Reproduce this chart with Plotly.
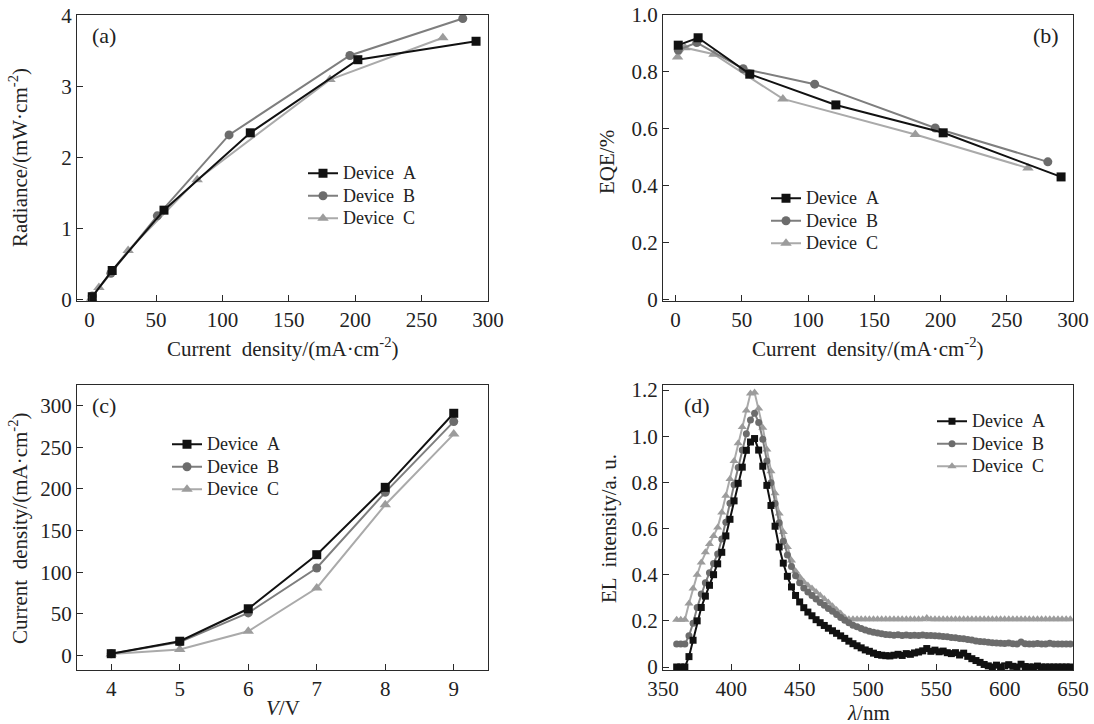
import plotly.graph_objects as go

# ---------------- data ----------------
devices = ["Device A", "Device B", "Device C"]

voltage = [4, 5, 6, 7, 8, 9]
current_A = [2, 17, 56, 121, 202, 291]
current_B = [2, 16, 51, 105, 196, 281]
current_C = [1.5, 7, 29, 81, 181, 266]

radiance_A = [0.04, 0.41, 1.26, 2.35, 3.38, 3.64]
radiance_B = [0.05, 0.37, 1.18, 2.32, 3.44, 3.96]
radiance_C = [0.02, 0.17, 0.69, 1.69, 3.10, 3.69]

eqe_A = [0.894, 0.920, 0.792, 0.684, 0.586, 0.431]
eqe_B = [0.877, 0.903, 0.811, 0.757, 0.603, 0.484]
eqe_C = [0.852, 0.885, 0.862, 0.705, 0.580, 0.462]

wavelength = [360, 363, 366, 369, 372, 375, 378, 381, 384, 387, 390, 393, 396, 399,
              402, 405, 408, 411, 414, 417, 420, 423, 426, 429, 432, 435, 438, 441,
              444, 447, 450, 453, 456, 459, 462, 465, 468, 471, 474, 477, 480, 483,
              486, 489, 492, 495, 498, 501, 504, 507, 510, 513, 516, 519, 522, 525,
              528, 531, 534, 537, 540, 543, 546, 549, 552, 555, 558, 561, 564, 567,
              570, 573, 576, 579, 582, 585, 588, 591, 594, 597, 600, 603, 606, 609,
              612, 615, 618, 621, 624, 627, 630, 633, 636, 639, 642, 645, 648]

el_A = [0.000, 0.000, 0.000, 0.045, 0.116, 0.200, 0.258, 0.307, 0.354, 0.400, 0.447,
        0.497, 0.568, 0.640, 0.720, 0.796, 0.866, 0.939, 0.975, 0.990, 0.940, 0.870,
        0.787, 0.700, 0.610, 0.520, 0.450, 0.393, 0.347, 0.310, 0.282, 0.257, 0.238,
        0.222, 0.205, 0.192, 0.180, 0.168, 0.157, 0.146, 0.135, 0.124, 0.112, 0.101,
        0.092, 0.083, 0.074, 0.068, 0.060, 0.054, 0.051, 0.049, 0.048, 0.051, 0.055,
        0.050, 0.058, 0.055, 0.061, 0.065, 0.070, 0.080, 0.068, 0.073, 0.066, 0.069,
        0.062, 0.058, 0.062, 0.052, 0.060, 0.046, 0.036, 0.028, 0.020, 0.011, 0.005,
        0.000, 0.008, 0.000, 0.005, 0.010, 0.003, 0.000, 0.012, 0.002, 0.000, 0.000,
        0.004, 0.000, 0.000, 0.000, 0.000, 0.000, 0.000, 0.000, 0.000]

el_B = [0.100, 0.100, 0.100, 0.135, 0.190, 0.258, 0.316, 0.365, 0.408, 0.448, 0.490,
        0.555, 0.627, 0.710, 0.790, 0.864, 0.940, 1.011, 1.070, 1.100, 1.060, 0.987,
        0.893, 0.798, 0.708, 0.625, 0.545, 0.485, 0.435, 0.395, 0.365, 0.342, 0.325,
        0.310, 0.295, 0.280, 0.268, 0.254, 0.242, 0.228, 0.215, 0.203, 0.192, 0.181,
        0.174, 0.167, 0.160, 0.155, 0.151, 0.147, 0.144, 0.141, 0.140, 0.138, 0.140,
        0.137, 0.139, 0.136, 0.138, 0.137, 0.139, 0.136, 0.137, 0.135, 0.134, 0.132,
        0.131, 0.128, 0.127, 0.124, 0.122, 0.119, 0.117, 0.113, 0.111, 0.109, 0.107,
        0.105, 0.104, 0.103, 0.102, 0.104, 0.101, 0.100, 0.108, 0.101, 0.100, 0.100,
        0.102, 0.100, 0.100, 0.103, 0.100, 0.100, 0.100, 0.100, 0.100]

el_C = [0.205, 0.205, 0.205, 0.275, 0.340, 0.400, 0.453, 0.497, 0.533, 0.568, 0.605,
        0.670, 0.742, 0.815, 0.893, 0.970, 1.040, 1.112, 1.185, 1.190, 1.120, 1.037,
        0.943, 0.848, 0.753, 0.665, 0.585, 0.520, 0.462, 0.415, 0.390, 0.368, 0.353,
        0.340, 0.325, 0.310, 0.295, 0.280, 0.263, 0.247, 0.232, 0.215, 0.207, 0.207,
        0.207, 0.207, 0.207, 0.207, 0.207, 0.207, 0.207, 0.207, 0.207, 0.207, 0.207,
        0.207, 0.207, 0.207, 0.207, 0.207, 0.207, 0.212, 0.207, 0.207, 0.207, 0.207,
        0.207, 0.207, 0.207, 0.207, 0.207, 0.207, 0.207, 0.207, 0.207, 0.207, 0.207,
        0.207, 0.207, 0.207, 0.207, 0.207, 0.207, 0.207, 0.207, 0.207, 0.207, 0.207,
        0.207, 0.207, 0.207, 0.207, 0.207, 0.207, 0.207, 0.207, 0.207]

# ---------------- style ----------------
W, H = 1094, 724
FONT = "Liberation Serif"
TXT = "#222222"
marker_col = ["#111111", "#6c6c6c", "#9c9c9c"]
line_col = ["#111111", "#7e7e7e", "#aaaaaa"]
symbols = ["square", "circle", "triangle-up"]

fig = go.Figure()

def legend_name(s):
    return "<span style='font-size:18px'>" + s.replace(" ", "\u2002") + "</span>"

def add_panel(xs, ys, xa, ya, leg, msize, lwidth):
    for i in [2, 1, 0]:
        fig.add_trace(go.Scatter(
            x=xs[i], y=ys[i], name=legend_name(devices[i]), mode="lines+markers",
            xaxis=xa, yaxis=ya, legend=leg, legendrank=i + 1,
            line=dict(color=line_col[i], width=lwidth),
            marker=dict(symbol=symbols[i], size=msize + (1 if i == 2 else 0),
                        color=marker_col[i]),
        ))

add_panel([current_A, current_B, current_C], [radiance_A, radiance_B, radiance_C],
          "x", "y", "legend", 9, 2)
add_panel([current_A, current_B, current_C], [eqe_A, eqe_B, eqe_C],
          "x2", "y2", "legend2", 9, 2)
add_panel([voltage, voltage, voltage], [current_A, current_B, current_C],
          "x3", "y3", "legend3", 9, 2)
add_panel([wavelength, wavelength, wavelength], [el_A, el_B, el_C],
          "x4", "y4", "legend4", 7, 2)

def px(x):
    return x / W

def py(y):
    return 1 - y / H

XL = [px(77), px(488)]
XR = [px(663), px(1073)]
YT = [py(301), py(15)]
YB = [py(670), py(385)]

axis_common = dict(
    showline=True, linecolor="#2a2a2a", linewidth=1.3, mirror=True,
    ticks="inside", ticklen=6, tickwidth=1.2, tickcolor="#2a2a2a",
    showgrid=False, zeroline=False, automargin=False,
    tickfont=dict(family=FONT, size=21, color=TXT),
)

def ax(domain, rng, vals, texts, anchor):
    d = dict(axis_common)
    d.update(domain=domain, range=rng, tickmode="array", tickvals=vals,
             ticktext=texts, anchor=anchor)
    return d

x_cd = [0, 50, 100, 150, 200, 250, 300]
fig.update_layout(
    width=W, height=H,
    margin=dict(l=0, r=0, t=0, b=0, autoexpand=False),
    paper_bgcolor="white", plot_bgcolor="white",
    xaxis=ax(XL, [-9.5, 300], x_cd, [str(v) for v in x_cd], "y"),
    yaxis=ax(YT, [-0.02, 4.01], [0, 1, 2, 3, 4], ["0", "1", "2", "3", "4"], "x"),
    xaxis2=ax(XR, [-9.5, 300], x_cd, [str(v) for v in x_cd], "y2"),
    yaxis2=ax(YT, [-0.005, 1.0], [0, 0.2, 0.4, 0.6, 0.8, 1.0],
              ["0", "0.2", "0.4", "0.6", "0.8", "1.0"], "x2"),
    xaxis3=ax(XL, [3.5, 9.5], voltage, [str(v) for v in voltage], "y3"),
    yaxis3=ax(YB, [-17.6, 325], [0, 50, 100, 150, 200, 250, 300],
              ["0", "50", "100", "150", "200", "250", "300"], "x3"),
    xaxis4=ax(XR, [350, 650], [350, 400, 450, 500, 550, 600, 650],
              ["350", "400", "450", "500", "550", "600", "650"], "y4"),
    yaxis4=ax(YB, [-0.013, 1.222], [0, 0.2, 0.4, 0.6, 0.8, 1.0, 1.2],
              ["0", "0.2", "0.4", "0.6", "0.8", "1.0", "1.2"], "x4"),
    showlegend=True,
)

leg_common = dict(font=dict(family=FONT, size=15, color=TXT), bgcolor="rgba(0,0,0,0)",
                  borderwidth=0, xanchor="left", yanchor="middle",
                  traceorder="normal", tracegroupgap=0)
fig.update_layout(
    legend=dict(leg_common, x=px(303), y=py(196)),
    legend2=dict(leg_common, x=px(766), y=py(221)),
    legend3=dict(leg_common, x=px(167), y=py(467)),
    legend4=dict(leg_common, x=px(932), y=py(444)),
)

TITLE_FONT = dict(family=FONT, size=21, color=TXT)
LABEL_FONT = dict(family=FONT, size=22, color=TXT)
cd_title = "Current  density/(mA·cm<sup>-2</sup>)"
titles = [
    dict(x=px(283), y=py(347), text=cd_title, textangle=0),
    dict(x=px(868), y=py(347), text=cd_title, textangle=0),
    dict(x=px(283), y=py(708), text="<i>V</i>/V", textangle=0),
    dict(x=px(868), y=py(713), text="<i>λ</i>/nm", textangle=0),
    dict(x=px(19), y=py(158), text="Radiance/(mW·cm<sup>-2</sup>)", textangle=-90),
    dict(x=px(607), y=py(162), text="EQE/%", textangle=-90),
    dict(x=px(18), y=py(528), text=cd_title, textangle=-90),
    dict(x=px(609), y=py(529), text="EL  intensity/a. u.", textangle=-90),
]
labels = [
    dict(x=px(104), y=py(35), text="(a)"),
    dict(x=px(1046), y=py(35), text="(b)"),
    dict(x=px(104), y=py(405), text="(c)"),
    dict(x=px(697), y=py(405), text="(d)"),
]
for a in titles:
    fig.add_annotation(xref="paper", yref="paper", showarrow=False,
                       xanchor="center", yanchor="middle", font=TITLE_FONT, **a)
for a in labels:
    fig.add_annotation(xref="paper", yref="paper", showarrow=False,
                       xanchor="center", yanchor="middle", font=LABEL_FONT, **a)

fig.write_html(
    "out.html",
    config={"displayModeBar": False},
    post_script="document.body.style.margin='0px';document.body.style.overflow='hidden';",
)
